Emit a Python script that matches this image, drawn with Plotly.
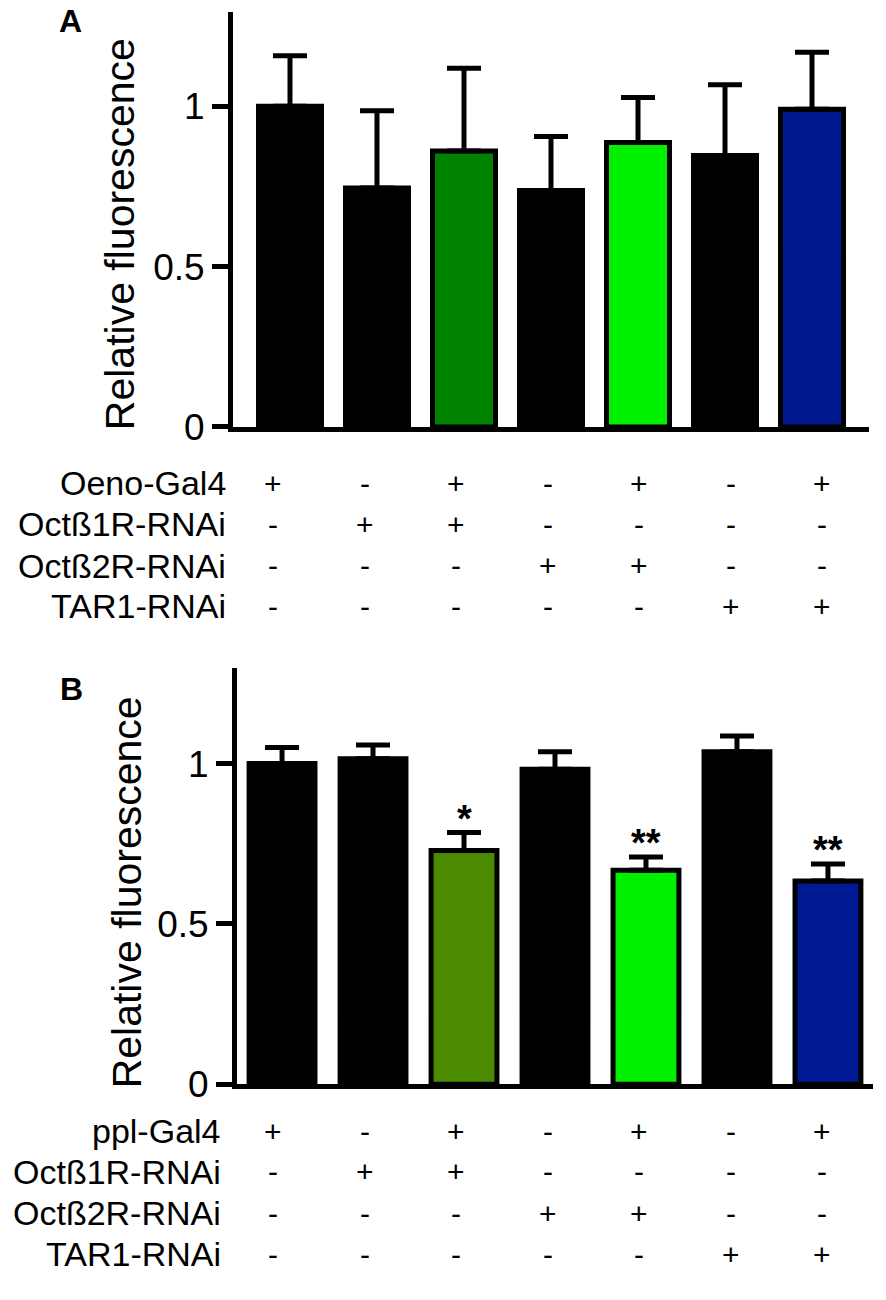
import plotly.graph_objects as go

W, H = 886, 1300
FONT = "Liberation Sans, Arial, sans-serif"

# panel A: Oeno-Gal4 driver
a_means = [1.00, 0.745, 0.86, 0.737, 0.887, 0.846, 0.99]
a_errs = [0.157, 0.241, 0.258, 0.168, 0.14, 0.221, 0.178]
a_colors = ["#000000", "#000000", "#008200", "#000000", "#00f000", "#000000", "#00198f"]

# panel B: ppl-Gal4 driver
b_means = [1.00, 1.015, 0.729, 0.982, 0.667, 1.037, 0.634]
b_errs = [0.05, 0.043, 0.056, 0.055, 0.042, 0.049, 0.053]
b_colors = ["#000000", "#000000", "#4b8b00", "#000000", "#00f000", "#000000", "#001a94"]
b_stars = ["", "", "*", "", "**", "", "**"]

groups = list(range(7))
a_rows = ["Oeno-Gal4", "Octß1R-RNAi", "Octß2R-RNAi", "TAR1-RNAi"]
b_rows = ["ppl-Gal4", "Octß1R-RNAi", "Octß2R-RNAi", "TAR1-RNAi"]
signs = [
    ["+", "-", "+", "-", "+", "-", "+"],
    ["-", "+", "+", "-", "-", "-", "-"],
    ["-", "-", "-", "+", "+", "-", "-"],
    ["-", "-", "-", "-", "-", "+", "+"],
]
y_ticks = [0, 0.5, 1]
y_ticktext = ["0", "0.5", "1"]


def px_x(p):
    return p / W


def px_y(p):
    return 1 - p / H


fig = go.Figure()

for means, errs, colors, xa, ya in [
    (a_means, a_errs, a_colors, "x", "y"),
    (b_means, b_errs, b_colors, "x2", "y2"),
]:
    fig.add_trace(
        go.Bar(
            x=groups,
            y=means,
            width=0.724,
            marker=dict(color=colors, line=dict(color="black", width=5)),
            error_y=dict(
                type="data",
                symmetric=False,
                array=errs,
                arrayminus=[0] * len(errs),
                color="black",
                thickness=5,
                width=17,
            ),
            xaxis=xa,
            yaxis=ya,
            showlegend=False,
        )
    )

axis_common = dict(
    showline=True,
    linewidth=5,
    linecolor="black",
    showgrid=False,
    zeroline=False,
    fixedrange=True,
)

fig.update_layout(
    width=W,
    height=H,
    margin=dict(l=0, r=0, t=0, b=0),
    paper_bgcolor="white",
    plot_bgcolor="white",
    font=dict(family=FONT, color="black"),
    xaxis=dict(
        domain=[px_x(233), px_x(869)],
        range=[-0.655, 6.655],
        showticklabels=False,
        ticks="",
        anchor="y",
        **axis_common,
    ),
    yaxis=dict(
        domain=[px_y(434), px_y(12)],
        range=[0, 1.294],
        tickvals=y_ticks,
        ticktext=y_ticktext,
        ticks="outside",
        ticklen=16,
        tickwidth=5,
        tickcolor="black",
        tickfont=dict(size=37, family=FONT),
        anchor="x",
        **axis_common,
    ),
    xaxis2=dict(
        domain=[px_x(237), px_x(873)],
        range=[-0.495, 6.495],
        showticklabels=False,
        ticks="",
        anchor="y2",
        **axis_common,
    ),
    yaxis2=dict(
        domain=[px_y(1102), px_y(679)],
        range=[0, 1.298],
        tickvals=y_ticks,
        ticktext=y_ticktext,
        ticks="outside",
        ticklen=16,
        tickwidth=5,
        tickcolor="black",
        tickfont=dict(size=37, family=FONT),
        anchor="x2",
        **axis_common,
    ),
)

annotations = []

# panel letters and y titles
for letter, lx, ly in [("A", 70, 21), ("B", 71, 700)]:
    annotations.append(dict(
        text="<b>%s</b>" % letter, x=px_x(lx), y=px_y(ly), xref="paper", yref="paper",
        xanchor="center", yanchor="middle", showarrow=False,
        font=dict(size=32, family=FONT, color="black"),
    ))
for tx, ty in [(120, 238), (127, 907)]:
    annotations.append(dict(
        text="Relative fluorescence", x=px_x(tx), y=px_y(ty), xref="paper", yref="paper",
        xanchor="center", yanchor="middle", textangle=-90, showarrow=False,
        font=dict(size=41, family=FONT, color="black"),
    ))

# significance stars (panel B)
for g, m, e, s in zip(groups, b_means, b_errs, b_stars):
    if s:
        annotations.append(dict(
            text="<b>%s</b>" % s, x=g, y=m + e, xref="x2", yref="y2",
            xanchor="center", yanchor="bottom", yshift=-9, showarrow=False,
            font=dict(size=38, family=FONT, color="black"),
        ))

# genotype tables
col_x0, col_step = 273, 91.5
for rows, label_right, row_y in [
    (a_rows, 228, [491, 533, 575, 616]),
    (b_rows, 223, [1150, 1191, 1233, 1275]),
]:
    for r, name in enumerate(rows):
        annotations.append(dict(
            text=name, x=px_x(label_right), y=px_y(row_y[r]), xref="paper", yref="paper",
            xanchor="right", yanchor="middle", showarrow=False,
            font=dict(size=34, family=FONT, color="black"),
        ))
        for c, sgn in enumerate(signs[r]):
            annotations.append(dict(
                text=sgn, x=px_x(col_x0 + c * col_step), y=px_y(row_y[r]),
                xref="paper", yref="paper", xanchor="center", yanchor="middle",
                showarrow=False, font=dict(size=30, family=FONT, color="black"),
            ))

fig.update_layout(annotations=annotations)

fig.write_html(
    "out.html",
    config={"displayModeBar": False},
    post_script="document.body.style.margin='0px';",
)
